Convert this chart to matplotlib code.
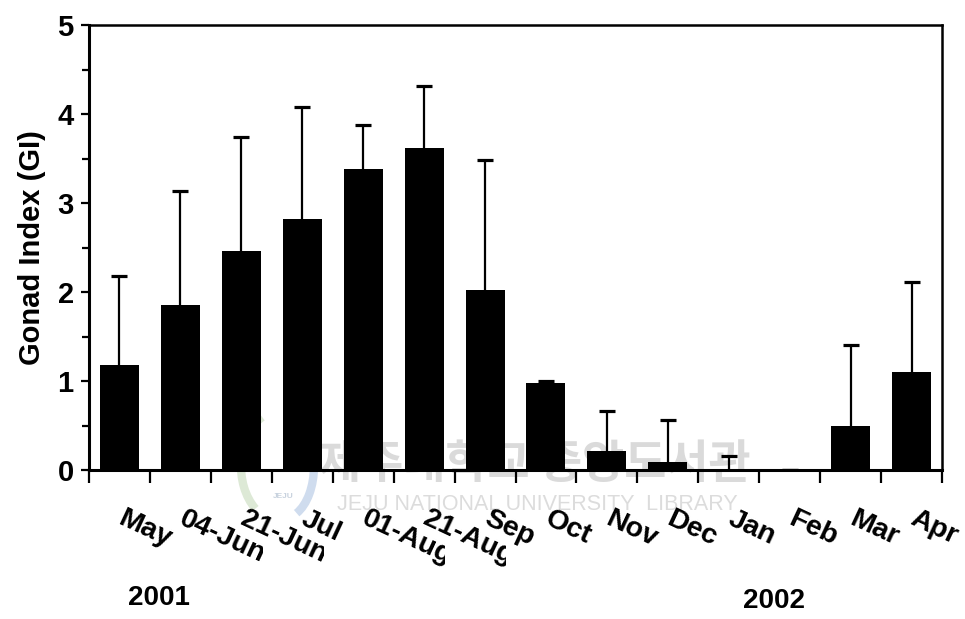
import matplotlib
matplotlib.use('Agg')
import matplotlib.pyplot as plt
import matplotlib.font_manager as fm
from matplotlib.patches import Arc
from matplotlib.transforms import Bbox, TransformedBbox, blended_transform_factory
import numpy as np

# Monthly gonad index, mean and standard deviation
months = ['May', '04-Jun', '21-Jun', 'Jul', '01-Aug', '21-Aug', 'Sep',
          'Oct', 'Nov', 'Dec', 'Jan', 'Feb', 'Mar', 'Apr']
gi_mean = [1.18, 1.85, 2.46, 2.82, 3.38, 3.62, 2.02,
           0.98, 0.21, 0.09, 0.01, 0.0, 0.49, 1.10]
gi_sd = [1.00, 1.28, 1.28, 1.26, 0.50, 0.70, 1.46,
         0.02, 0.45, 0.47, 0.15, 0.0, 0.91, 1.01]
years = ['2001', '2002']

plt.rcParams['font.family'] = ['Liberation Sans', 'DejaVu Sans']
plt.rcParams['font.weight'] = 'bold'

installed = {f.name for f in fm.fontManager.ttflist}
narrow = 'Liberation Sans Narrow' if 'Liberation Sans Narrow' in installed else 'Liberation Sans'

W, H = 965, 619
fig = plt.figure(figsize=(W / 100, H / 100), dpi=100)

# library stamp sits underneath the chart
wm = fig.add_axes([0, 0, 1, 1], zorder=0)
wm.set_xlim(0, W)
wm.set_ylim(H, 0)
wm.axis('off')
wm.text(535, 465, '제주대학교 중앙도서관', fontsize=33, color='#dadada',
        family=['Noto Sans CJK KR', 'DejaVu Sans'], fontweight='bold',
        ha='center', va='center')
wm.text(537, 504, 'JEJU NATIONAL UNIVERSITY  LIBRARY', fontsize=15.5,
        color='#dcdcdc', fontweight='normal', ha='center', va='center')
wm.add_patch(Arc((280, 466), 78, 110, theta1=120, theta2=250,
                 color='#dde9d6', lw=6))
wm.add_patch(Arc((284, 466), 60, 104, theta1=-75, theta2=75,
                 color='#cfdcee', lw=6))
wm.text(283, 497, 'JEJU', fontsize=6, color='#c8d2de', ha='center', va='center')

ax = fig.add_axes([89 / W, 1 - 470 / H, (942 - 89) / W, (470 - 25) / H], zorder=1)
ax.patch.set_alpha(0)

x = np.arange(len(months))
# whiskers go both ways but the bars hide the lower half
ax.errorbar(x, gi_mean, yerr=gi_sd, fmt='none', ecolor='black',
            elinewidth=1.6, capsize=6, capthick=2.3, zorder=1)
ax.bar(x, gi_mean, width=0.64, color='black', zorder=2)

ax.set_xlim(-0.5, len(months) - 0.5)
ax.set_ylim(0, 5)
ax.set_xticks(np.arange(len(months) + 1) - 0.5)
ax.set_xticklabels([])
ax.set_yticks(range(6))
ax.set_yticks(np.arange(0.5, 5, 1), minor=True)
ax.tick_params(axis='x', direction='out', length=9, width=1.6)
ax.tick_params(axis='y', which='major', direction='out', length=6, width=1.6,
               labelsize=21, pad=5)
ax.tick_params(axis='y', which='minor', direction='out', length=5, width=1.6)
for side in ['left', 'bottom']:
    ax.spines[side].set_linewidth(2.2)
for side in ['top', 'right']:
    ax.spines[side].set_linewidth(1.8)

ax.set_ylabel('Gonad Index (GI)', fontsize=21, fontweight='bold', labelpad=8)

# slanted month labels, each cut off at a fixed distance to its right
trans = blended_transform_factory(ax.transData, ax.transAxes)
for i, m in enumerate(months):
    t = ax.text(i + 0.1, -0.08, m, transform=trans, fontsize=20.5,
                fontweight='bold', rotation=-25, rotation_mode='anchor',
                ha='left', va='top', clip_on=True)
    t.set_clip_box(TransformedBbox(Bbox([[i - 0.6, -1.0], [i + 1.35, 0.0]]), trans))

fig.text(159 / W, 1 - 598 / H, years[0], fontsize=20, fontweight='bold',
         family=narrow, ha='center', va='center')
fig.text(774 / W, 1 - 601 / H, years[1], fontsize=20, fontweight='bold',
         family=narrow, ha='center', va='center')

fig.savefig('out.png', dpi=100)
